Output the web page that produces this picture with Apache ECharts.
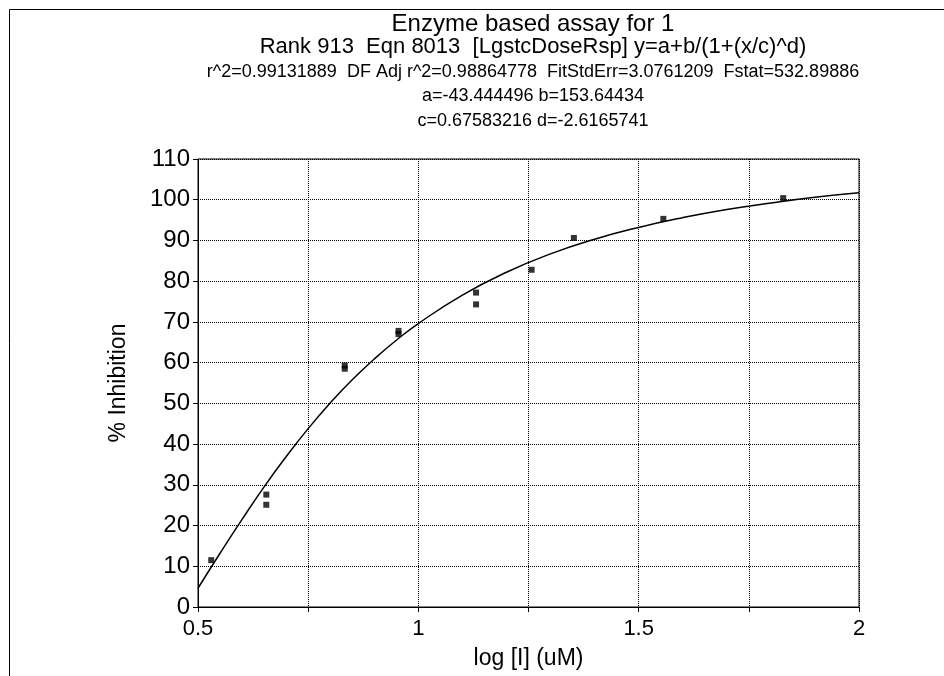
<!DOCTYPE html>
<html>
<head>
<meta charset="utf-8">
<script src="https://cdn.jsdelivr.net/npm/echarts@6/dist/echarts.min.js"></script>
<style>
html,body{margin:0;padding:0;background:#fff;}
#chart{width:944px;height:676px;}
</style>
</head>
<body>
<div id="chart"></div>
<script>
// Title lines
var titleLines = [
  "Enzyme based assay for 1",
  "Rank 913  Eqn 8013  [LgstcDoseRsp] y=a+b/(1+(x/c)^d)",
  "r^2=0.99131889  DF Adj r^2=0.98864778  FitStdErr=3.0761209  Fstat=532.89886",
  "a=-43.444496 b=153.64434",
  "c=0.67583216 d=-2.6165741"
];
var xAxisName = "log [I] (uM)";
var yAxisName = "% Inhibition";

// Measured data points (x = log conc, y = % inhibition)
var pointX = [0.53, 0.655, 0.655, 0.833, 0.833, 0.955, 0.955, 1.131, 1.131, 1.257, 1.353, 1.556, 1.828];
var pointY = [11.5, 25.1, 27.6, 58.5, 59.3, 67.0, 67.8, 74.3, 77.2, 82.8, 90.6, 95.3, 100.4];

// Fitted curve
var curveX = [0.5, 0.55, 0.6, 0.65, 0.7, 0.75, 0.8, 0.85, 0.9, 0.95, 1.0, 1.1, 1.2, 1.3, 1.4, 1.5, 1.6, 1.7, 1.8, 1.9, 2.0];
var curveY = [4.6, 13.2, 21.5, 29.5, 36.9, 43.8, 50.1, 55.8, 60.9, 65.5, 69.6, 76.6, 82.2, 86.7, 90.3, 93.2, 95.6, 97.6, 99.2, 100.6, 101.7];

// Axis ticks
var xMin = 0.5, xMax = 2, xStep = 0.25, xLabelStep = 0.5;
var yMin = 0, yMax = 110, yStep = 10;

var FONT = "'Liberation Sans', Arial, sans-serif";

var chart = echarts.init(document.getElementById('chart'), null, {renderer: 'canvas'});

var titleSizes = [24, 22, 18, 18, 18];
var titleCenters = [19, 42, 67, 91, 116];
var titles = titleLines.map(function (t, i) {
  return {
    text: t,
    left: 528,
    top: titleCenters[i] - titleSizes[i] / 2,
    textAlign: 'center',
    textStyle: {fontFamily: FONT, fontSize: titleSizes[i], fontWeight: 'normal', color: '#000', lineHeight: titleSizes[i]}
  };
});

var option = {
  backgroundColor: '#fff',
  animation: false,
  title: titles,
  graphic: [{
    type: 'rect',
    shape: {x: 9.5, y: 9.5, width: 1000, height: 1000},
    style: {fill: 'none', stroke: '#000', lineWidth: 1},
    silent: true
  }],
  grid: {
    left: 198, top: 159, width: 661, height: 448,
    show: true, borderColor: '#000', borderWidth: 1, containLabel: false
  },
  xAxis: {
    type: 'value', min: xMin, max: xMax, interval: xStep,
    name: xAxisName, nameLocation: 'middle', nameGap: 40,
    nameTextStyle: {fontFamily: FONT, fontSize: 23, color: '#000'},
    axisLine: {lineStyle: {color: '#000', width: 1}},
    axisTick: {show: true, inside: false, length: 5, lineStyle: {color: '#000'}},
    axisLabel: {
      fontFamily: FONT, fontSize: 22, color: '#000', margin: 11,
      formatter: function (v) {
        var r = Math.round(v / xLabelStep * 1000) / 1000;
        return Math.abs(r - Math.round(r)) < 1e-6 ? String(v) : '';
      }
    },
    splitLine: {show: true, lineStyle: {color: '#000', type: [1, 1], width: 1}}
  },
  yAxis: {
    type: 'value', min: yMin, max: yMax, interval: yStep,
    name: yAxisName, nameLocation: 'middle', nameGap: 68, nameRotate: 90,
    nameTextStyle: {fontFamily: FONT, fontSize: 23, color: '#000'},
    axisLine: {show: true, lineStyle: {color: '#000', width: 1}},
    axisTick: {show: true, inside: false, length: 5, lineStyle: {color: '#000'}},
    axisLabel: {fontFamily: FONT, fontSize: 24, color: '#000', margin: 8},
    splitLine: {show: true, lineStyle: {color: '#000', type: [1, 1], width: 1}}
  },
  series: [
    {
      type: 'line',
      data: curveX.map(function (x, i) { return [x, curveY[i]]; }),
      smooth: true,
      showSymbol: false,
      lineStyle: {color: '#000', width: 1.5},
      z: 3
    },
    {
      type: 'scatter',
      data: pointX.map(function (x, i) { return [x, pointY[i]]; }),
      symbol: 'rect',
      symbolSize: [6, 6],
      itemStyle: {color: '#000'},
      z: 4
    }
  ]
};
chart.setOption(option);
</script>
</body>
</html>
